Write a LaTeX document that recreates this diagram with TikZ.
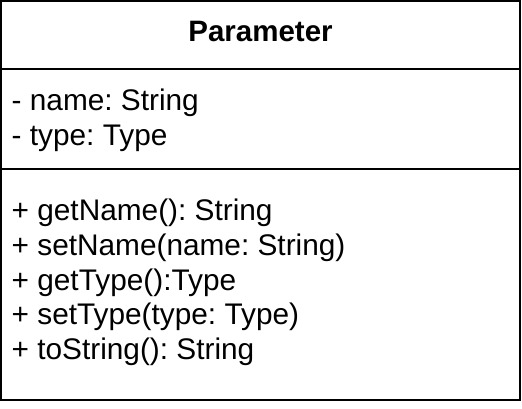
\documentclass[tikz,border=0pt]{standalone}
\usepackage{fontspec}
\setmainfont{Liberation Sans}
\frenchspacing
\begin{document}
\begin{tikzpicture}[x=1pt,y=-1pt,
  member/.style={anchor=base west,inner sep=0pt,font=\fontsize{29.8}{34}\selectfont\frenchspacing},
  title/.style={anchor=base,inner sep=0pt,font=\fontsize{29.5}{34}\selectfont\bfseries},
  frame/.style={draw=black,line width=2pt}]
\useasboundingbox (0,0) rectangle (522,408);
\draw[frame] (1,1) rectangle (520,400);
\coordinate (d1l) at (1,69);
\coordinate (d1r) at (520,69);
\coordinate (d2l) at (1,169);
\coordinate (d2r) at (520,169);
\draw[frame] (d1l) -- (d1r);
\draw[frame] (d2l) -- (d2r);
\node[title] (t) at (260.5,41) {Parameter};
\node[member] (a1) at (11.5,110.5) {- name: String};
\node[member] (a2) at (11.5,145) {- type: Type};
\node[member] (m1) at (11.5,220.5) {+ getName(): String};
\node[member] (m2) at (11.5,255.3) {+ setName(name: String)};
\node[member] (m3) at (11.5,290) {+ getType():Type};
\node[member] (m4) at (11.5,324.8) {+ setType(type: Type)};
\node[member] (m5) at (11.5,359.5) {+ toString(): String};
\end{tikzpicture}
\end{document}
